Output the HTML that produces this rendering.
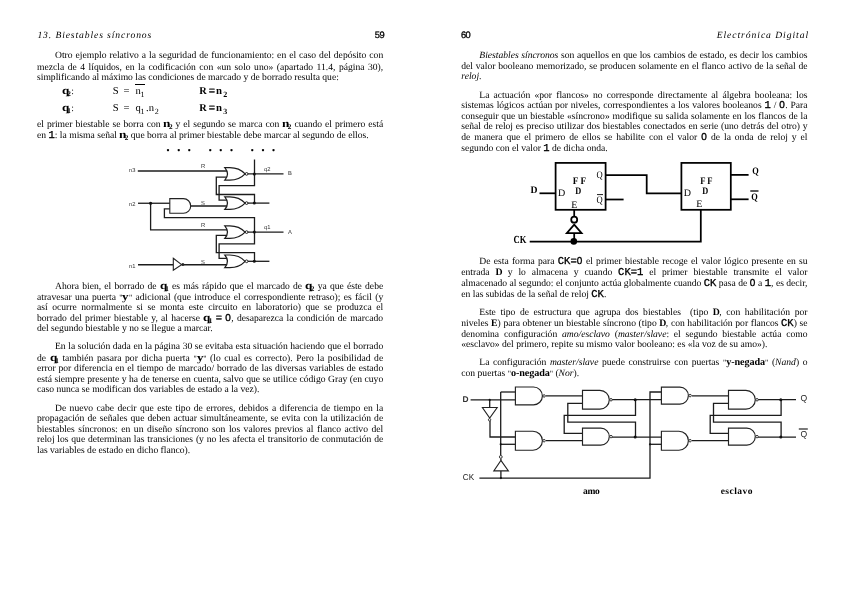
<!DOCTYPE html>
<html><head><meta charset="utf-8"><title>Electrónica Digital</title>
<style>
html,body{margin:0;padding:0;background:#fff}
body{width:848px;height:599px;position:relative;overflow:hidden;font-family:"Liberation Serif",serif;font-size:9.6px;color:#000;text-rendering:geometricPrecision}
#pg{position:absolute;left:0;top:0;width:848px;height:599px;will-change:transform;background:#fff;filter:blur(0.3px)}
.l{position:absolute;white-space:nowrap;line-height:10px;height:10px}
.l.j{text-align:justify;text-align-last:justify;white-space:normal}
.m{font-family:"Liberation Mono",monospace;font-weight:normal;-webkit-text-stroke:0.32px #000}
.ms{font-family:"Liberation Serif",serif;font-weight:bold;font-size:11px}
.wq{display:inline-block;transform:scaleX(1.2);transform-origin:0 50%;margin-right:1.1px}
.bs{font-size:7.2px;position:relative;top:2.1px;margin-left:-1.7px;letter-spacing:0}
.mw{font-size:9.8px;display:inline-block;width:6.5px;text-align:center;letter-spacing:-0.3px}
.qt{font-size:8px;position:relative;top:-0.5px}
.z{font-family:"Liberation Sans",sans-serif;font-weight:normal;-webkit-text-stroke:0.35px #000;font-size:0.95em;display:inline-block;width:0.6em;text-align:center}
.sb{font-size:8px;position:relative;top:2.8px;margin-left:-0.4px}
.sb2{font-size:8px;position:relative;top:3.0px;margin-left:1.4px;font-family:"Liberation Serif",serif}
.ov{display:inline-block;position:relative}
.ov:before{content:"";position:absolute;left:-0.6px;right:-0.2px;top:-2.6px;border-top:1px solid #000}
.pn{font-family:"Liberation Sans",sans-serif;font-size:9.3px;letter-spacing:-0.55px;-webkit-text-stroke:0.3px #000}
</style></head>
<body>
<div id="pg">
<svg width="848" height="599" viewBox="0 0 848 599" style="position:absolute;left:0;top:0">
<style>.w{fill:none;stroke:#1c1c1c;stroke-width:1.3;stroke-linejoin:miter}</style>
<path class="w" d="M137.8,171 H227"/>
<path class="w" d="M254.5,159.5 V174"/>
<path class="w" d="M138,203.25 H170"/>
<path class="w" d="M150.6,203.25 V229.8 H227"/>
<circle cx="150.6" cy="203.25" r="1.6" fill="#111"/>
<path class="w" d="M190,206 H227"/>
<path class="w" d="M170,208.9 H164.4 V217.6 H254.5 V232"/>
<path d="M169.8,198.6 H183.4 A7.3,7.3 0 0 1 183.4,213.2 H169.8 Z" fill="#fff" stroke="#222" stroke-width="1.1"/>
<path class="w" d="M138,264.75 H173"/>
<path class="w" d="M184,264.75 H227"/>
<path d="M173.3,258.3 L181.6,264.6 L173.3,270.2 Z" fill="#fff" stroke="#222" stroke-width="1.1"/>
<circle cx="182.9" cy="264.6" r="1.5" fill="#222"/>
<path d="M248,173.9 H283.5" class="w"/>
<path d="M254.5,173.9 V185.6 H219.1 V200.1 H227" class="w"/>
<path d="M248,203.1 H269.4" class="w"/>
<path d="M254.5,203.1 V194.5 H216.3 V177.1 H227" class="w"/>
<circle cx="254.3" cy="173.9" r="1.5" fill="#111"/>
<circle cx="254.3" cy="203.1" r="1.5" fill="#111"/>
<path d="M224.80,167.60 Q230.20,173.90 224.80,180.20 L229.80,180.20 C236.80,180.20 241.30,178.00 245.10,173.90 C241.30,169.80 236.80,167.60 229.80,167.60 Z" fill="#fff" stroke="#1c1c1c" stroke-width="1.2"/><circle cx="246.60" cy="173.90" r="1.35" fill="#fff" stroke="#1c1c1c" stroke-width="1"/>
<path d="M224.80,196.80 Q230.20,203.10 224.80,209.40 L229.80,209.40 C236.80,209.40 241.30,207.20 245.10,203.10 C241.30,199.00 236.80,196.80 229.80,196.80 Z" fill="#fff" stroke="#1c1c1c" stroke-width="1.2"/><circle cx="246.60" cy="203.10" r="1.35" fill="#fff" stroke="#1c1c1c" stroke-width="1"/>
<path d="M248,232.10000000000002 H283.5" class="w"/>
<path d="M254.5,232.10000000000002 V243.8 H219.1 V258.3 H227" class="w"/>
<path d="M248,261.3 H269.4" class="w"/>
<path d="M254.5,261.3 V252.7 H216.3 V235.3 H227" class="w"/>
<circle cx="254.3" cy="232.10000000000002" r="1.5" fill="#111"/>
<circle cx="254.3" cy="261.3" r="1.5" fill="#111"/>
<path d="M224.80,225.80 Q230.20,232.10 224.80,238.40 L229.80,238.40 C236.80,238.40 241.30,236.20 245.10,232.10 C241.30,228.00 236.80,225.80 229.80,225.80 Z" fill="#fff" stroke="#1c1c1c" stroke-width="1.2"/><circle cx="246.60" cy="232.10" r="1.35" fill="#fff" stroke="#1c1c1c" stroke-width="1"/>
<path d="M224.80,255.00 Q230.20,261.30 224.80,267.60 L229.80,267.60 C236.80,267.60 241.30,265.40 245.10,261.30 C241.30,257.20 236.80,255.00 229.80,255.00 Z" fill="#fff" stroke="#1c1c1c" stroke-width="1.2"/><circle cx="246.60" cy="261.30" r="1.35" fill="#fff" stroke="#1c1c1c" stroke-width="1"/>
<g font-family="Liberation Sans, sans-serif" fill="#333">
<text x="129" y="172.2" font-size="5.8" >n3</text>
<text x="129" y="206" font-size="5.8" >n2</text>
<text x="129" y="267.6" font-size="5.8" >n1</text>
<text x="201" y="168.2" font-size="5.8" >R</text>
<text x="201" y="205.2" font-size="5.8" >S</text>
<text x="201" y="226.6" font-size="5.8" >R</text>
<text x="201" y="263.6" font-size="5.8" >S</text>
<text x="264" y="171" font-size="5.8" >q2</text>
<text x="264" y="229.2" font-size="5.8" >q1</text>
<text x="288" y="175.2" font-size="5.8" >B</text>
<text x="288" y="234.4" font-size="5.8" >A</text>
</g>
<g fill="none" stroke="#000" stroke-width="1.75" stroke-linejoin="miter">
<rect x="555.6" y="162.9" width="50" height="46.9"/>
<rect x="681.4" y="162.9" width="49.4" height="46.9"/>
<path d="M539.5,193.3 H555.6"/>
<path d="M605.6,175 H646.7 V193.3 H681.4"/>
<path d="M605.6,199.5 H623.6"/>
<path d="M730.8,174.9 H748.6"/>
<path d="M730.8,199.3 H748.6"/>
<path d="M529.7,241.5 H700.8 V209.8"/>
<path d="M574.2,209.8 V216.3"/>
<circle cx="574.2" cy="219.7" r="3.0"/>
<path d="M574.2,224.6 L581.6,233.1 H566.8 Z"/>
<path d="M574.2,233.2 V241.5"/>
</g>
<circle cx="573.8" cy="241.4" r="3.3" fill="#000"/>
<path d="M597,194.6 H603" stroke="#000" stroke-width="0.9"/>
<path d="M750.3,191 H758.5" stroke="#000" stroke-width="1.3"/>
<g font-family="Liberation Serif, serif" fill="#000" font-size="10">
<text x="530.6" y="193.3" font-weight="bold" textLength="7" lengthAdjust="spacingAndGlyphs">D</text>
<text x="513.6" y="242.6" font-weight="bold" font-size="10.8" textLength="12.8" lengthAdjust="spacingAndGlyphs">CK</text>
<text x="558" y="196.2">D</text>
<text x="683.8" y="196.2">D</text>
<text x="572.8" y="183.9" font-weight="bold" textLength="13.3" lengthAdjust="spacingAndGlyphs">F F</text>
<text x="700.2" y="183.9" font-weight="bold" textLength="12.3" lengthAdjust="spacingAndGlyphs">F F</text>
<text x="575.3" y="193.8" font-weight="bold" textLength="6" lengthAdjust="spacingAndGlyphs">D</text>
<text x="702.3" y="193.8" font-weight="bold" textLength="6" lengthAdjust="spacingAndGlyphs">D</text>
<text x="596.6" y="178" textLength="6.2" lengthAdjust="spacingAndGlyphs">Q</text>
<text x="596.6" y="202.9" textLength="6.2" lengthAdjust="spacingAndGlyphs">Q</text>
<text x="571.2" y="208.1">E</text>
<text x="696.2" y="207.4">E</text>
<text x="752.2" y="174.4" font-weight="bold" textLength="6.5" lengthAdjust="spacingAndGlyphs">Q</text>
<text x="751.2" y="199.6" font-weight="bold" textLength="6.5" lengthAdjust="spacingAndGlyphs">Q</text>
</g>
<path d="M470.6,399.9 H516" class="w"/>
<path d="M489.7,399.9 V407.4" class="w"/>
<path d="M490,421 V437 H516" class="w"/>
<path d="M500.7,392 H516" class="w"/>
<path d="M500.7,392 V455.4" class="w"/>
<path d="M500.7,444.3 H516" class="w"/>
<path d="M500.9,458.4 V460.5" class="w"/>
<path d="M500.9,470.9 V478.1" class="w"/>
<path d="M479.4,478.1 H650 V392 H662" class="w"/>
<path d="M650,444.3 H662" class="w"/>
<path d="M482.4,407.5 H497.2 L489.7,418 Z" fill="#fff" stroke="#222" stroke-width="1.1"/>
<circle cx="489.6" cy="419.8" r="1.2" fill="#fff" stroke="#222" stroke-width="0.9"/>
<path d="M500.9,460.4 L508.4,470.9 H493.8 Z" fill="#fff" stroke="#222" stroke-width="1.1"/>
<circle cx="500.8" cy="456.9" r="1.4" fill="#fff" stroke="#222" stroke-width="0.9"/>
<circle cx="489.7" cy="399.9" r="1.1" fill="#111"/>
<circle cx="500.7" cy="444.3" r="1.1" fill="#111"/>
<circle cx="500.9" cy="478.1" r="1.1" fill="#111"/>
<circle cx="650" cy="444.3" r="1.1" fill="#111"/>
<path d="M546,395.9 H583.5" class="w"/>
<path d="M546,440.6 H583.5" class="w"/>
<path d="M612,399.7 H662" class="w"/>
<path d="M612,437.1 H662" class="w"/>
<path d="M635.5,399.7 V415.3 H564.2 V433.4 H583.5" class="w"/>
<path d="M635.5,437.1 V422.1 H567.8 V403.4 H583.5" class="w"/>
<circle cx="635.2" cy="399.7" r="1.5" fill="#111"/>
<circle cx="635.2" cy="437.1" r="1.5" fill="#111"/>
<path d="M515.40,387.00 H533.45 A8.95,8.95 0 0 1 533.45,404.90 H515.40 Z" fill="#fff" stroke="#222" stroke-width="1.15"/><circle cx="544.10" cy="395.95" r="1.25" fill="#fff" stroke="#222" stroke-width="0.9"/>
<path d="M515.40,431.20 H532.90 A9.50,9.50 0 0 1 532.90,450.20 H515.40 Z" fill="#fff" stroke="#222" stroke-width="1.15"/><circle cx="544.10" cy="440.70" r="1.25" fill="#fff" stroke="#222" stroke-width="0.9"/>
<path d="M582.50,390.35 H599.90 A9.40,9.40 0 0 1 599.90,409.15 H582.50 Z" fill="#fff" stroke="#222" stroke-width="1.15"/><circle cx="611.00" cy="399.75" r="1.25" fill="#fff" stroke="#222" stroke-width="0.9"/>
<path d="M582.50,428.10 H600.80 A8.50,8.50 0 0 1 600.80,445.10 H582.50 Z" fill="#fff" stroke="#222" stroke-width="1.15"/><circle cx="611.00" cy="436.60" r="1.25" fill="#fff" stroke="#222" stroke-width="0.9"/>
<path d="M692,395.9 H729.5" class="w"/>
<path d="M692,440.6 H729.5" class="w"/>
<path d="M758,399.7 H796" class="w"/>
<path d="M758,437.1 H796" class="w"/>
<path d="M781.1,399.7 V415.3 H710.2 V433.4 H729.5" class="w"/>
<path d="M781.1,437.1 V422.1 H713.5 V403.4 H729.5" class="w"/>
<circle cx="780.8000000000001" cy="399.7" r="1.5" fill="#111"/>
<circle cx="780.8000000000001" cy="437.1" r="1.5" fill="#111"/>
<path d="M661.40,387.10 H679.90 A8.50,8.50 0 0 1 679.90,404.10 H661.40 Z" fill="#fff" stroke="#222" stroke-width="1.15"/><circle cx="690.10" cy="395.60" r="1.25" fill="#fff" stroke="#222" stroke-width="0.9"/>
<path d="M661.40,431.20 H678.90 A9.50,9.50 0 0 1 678.90,450.20 H661.40 Z" fill="#fff" stroke="#222" stroke-width="1.15"/><circle cx="690.10" cy="440.70" r="1.25" fill="#fff" stroke="#222" stroke-width="0.9"/>
<path d="M728.50,390.35 H745.90 A9.40,9.40 0 0 1 745.90,409.15 H728.50 Z" fill="#fff" stroke="#222" stroke-width="1.15"/><circle cx="757.00" cy="399.75" r="1.25" fill="#fff" stroke="#222" stroke-width="0.9"/>
<path d="M728.50,428.10 H746.80 A8.50,8.50 0 0 1 746.80,445.10 H728.50 Z" fill="#fff" stroke="#222" stroke-width="1.15"/><circle cx="757.00" cy="436.60" r="1.25" fill="#fff" stroke="#222" stroke-width="0.9"/>
<g font-family="Liberation Sans, sans-serif" fill="#222" font-size="8.6">
<text x="462.6" y="401.8" font-weight="bold" font-size="8.4" fill="#333">D</text>
<text x="462.8" y="480.1" textLength="11.3" lengthAdjust="spacingAndGlyphs">CK</text>
<text x="800.4" y="400.6">Q</text>
<text x="800.4" y="436.6">Q</text>
</g>
<path d="M798.8,429 H807.8" stroke="#222" stroke-width="1.2"/>
</svg>
<div class="l" style="left:37.4px;top:31.00px"><i style="letter-spacing:0.9px">13. Biestables síncronos</i></div>
<div class="l" style="left:374.8px;top:30.00px"><span class="pn">59</span></div>
<div class="l j" style="left:55.0px;top:51.00px;width:328.2px">Otro ejemplo relativo a la seguridad de funcionamiento: en el caso del depósito con</div>
<div class="l j" style="left:37.0px;top:63.00px;width:346.2px">mezcla de 4 líquidos, en la codificación con «un solo uno» (apartado 11.4, página 30),</div>
<div class="l" style="left:37.0px;top:73.00px">simplificando al máximo las condiciones de marcado y de borrado resulta que:</div>
<div class="l" style="left:61.8px;top:86.00px"><b class="ms"><span class="wq">q</span><span class="bs">2</span></b><span style="margin-left:0.3px">:</span></div>
<div class="l" style="left:112.8px;top:87.00px"><span style="font-size:10.6px">S<span style="display:inline-block;width:4.9px"></span>=<span style="display:inline-block;width:6.0px"></span><span class="ov">n<span class="sb">1</span></span></span></div>
<div class="l" style="left:199.2px;top:86.00px"><b class="ms" style="font-size:10.4px;letter-spacing:0px">R</b><span style="display:inline-block;width:2.0px"></span><b class="m" style="font-size:10.5px;letter-spacing:0px">=</b><span style="display:inline-block;width:0.9px"></span><b class="ms" style="font-size:10.8px;letter-spacing:0px">n</b><b class="sb2">2</b></div>
<div class="l" style="left:61.8px;top:103.00px"><b class="ms"><span class="wq">q</span><span class="bs">1</span></b><span style="margin-left:0.3px">:</span></div>
<div class="l" style="left:112.8px;top:104.00px"><span style="font-size:10.6px">S<span style="display:inline-block;width:4.9px"></span>=<span style="display:inline-block;width:6px"></span>q<span class="sb">1</span><span style="margin-left:1.5px">.</span>n<span class="sb" style="margin-left:0.8px">2</span></span></div>
<div class="l" style="left:199.2px;top:103.00px"><b class="ms" style="font-size:10.4px;letter-spacing:0px">R</b><span style="display:inline-block;width:2.0px"></span><b class="m" style="font-size:10.5px;letter-spacing:0px">=</b><span style="display:inline-block;width:0.9px"></span><b class="ms" style="font-size:10.8px;letter-spacing:0px">n</b><b class="sb2">3</b></div>
<div class="l j" style="left:37.0px;top:119.00px;width:346.2px">el primer biestable se borra con <b class="ms"><span class="wq">n</span><span class="bs">2</span></b> y el segundo se marca con <b class="ms"><span class="wq">n</span><span class="bs">2</span></b> cuando el primero está</div>
<div class="l" style="left:37.0px;top:130.00px">en <b class="m" style="font-size:10.5px;letter-spacing:0px">1</b>: la misma señal <b class="ms"><span class="wq">n</span><span class="bs">2</span></b> que borra al primer biestable debe marcar al segundo de ellos.</div>
<div class="l" style="left:166.3px;top:143.00px"><b style="font-size:14px;letter-spacing:7.1px">...</b></div>
<div class="l" style="left:208.5px;top:143.00px"><b style="font-size:14px;letter-spacing:7.1px">...</b></div>
<div class="l" style="left:250.6px;top:143.00px"><b style="font-size:14px;letter-spacing:7.1px">...</b></div>
<div class="l j" style="left:55.0px;top:281.00px;width:328.2px">Ahora bien, el borrado de <b class="ms"><span class="wq">q</span><span class="bs">1</span></b> es más rápido que el marcado de <b class="ms"><span class="wq">q</span><span class="bs">2</span></b> ya que éste debe</div>
<div class="l j" style="left:37.0px;top:292.00px;width:346.2px">atravesar una puerta <span class="qt">"</span><b class="ms" style="font-size:10.8px;letter-spacing:0px"><span class="wq">y</span></b><span class="qt">"</span> adicional (que introduce el correspondiente retraso); es fácil (y</div>
<div class="l j" style="left:37.0px;top:303.00px;width:346.2px">así ocurre normalmente si se monta este circuito en laboratorio) que se produzca el</div>
<div class="l j" style="left:37.0px;top:313.00px;width:346.2px">borrado del primer biestable y, al hacerse <b class="ms"><span class="wq">q</span><span class="bs">1</span></b> <b class="m" style="font-size:10.5px;letter-spacing:0px">=</b> <b class="m" style="font-size:10.5px;letter-spacing:0px"><span class="z">0</span></b>, desaparezca la condición de marcado</div>
<div class="l" style="left:37.0px;top:324.00px">del segundo biestable y no se llegue a marcar.</div>
<div class="l j" style="left:55.0px;top:342.00px;width:328.2px">En la solución dada en la página 30 se evitaba esta situación haciendo que el borrado</div>
<div class="l j" style="left:37.0px;top:353.00px;width:346.2px">de <b class="ms"><span class="wq">q</span><span class="bs">1</span></b> también pasara por dicha puerta <span class="qt">"</span><b class="ms" style="font-size:10.8px;letter-spacing:0px"><span class="wq">y</span></b><span class="qt">"</span> (lo cual es correcto). Pero la posibilidad de</div>
<div class="l j" style="left:37.0px;top:364.00px;width:346.2px">error por diferencia en el tiempo de marcado/ borrado de las diversas variables de estado</div>
<div class="l j" style="left:37.0px;top:375.00px;width:346.2px">está siempre presente y ha de tenerse en cuenta, salvo que se utilice código Gray (en cuyo</div>
<div class="l" style="left:37.0px;top:385.00px">caso nunca se modifican dos variables de estado a la vez).</div>
<div class="l j" style="left:55.0px;top:404.00px;width:328.2px">De nuevo cabe decir que este tipo de errores, debidos a diferencia de tiempo en la</div>
<div class="l j" style="left:37.0px;top:414.00px;width:346.2px">propagación de señales que deben actuar simultáneamente, se evita con la utilización de</div>
<div class="l j" style="left:37.0px;top:425.00px;width:346.2px">biestables síncronos: en un diseño síncrono son los valores previos al flanco activo del</div>
<div class="l j" style="left:37.0px;top:435.00px;width:346.2px">reloj los que determinan las transiciones (y no les afecta el transitorio de conmutación de</div>
<div class="l" style="left:37.0px;top:446.00px">las variables de estado en dicho flanco).</div>
<div class="l" style="left:461.0px;top:30.00px"><span class="pn">60</span></div>
<div class="l" style="left:461.3px;top:31.00px;width:346.8px;text-align:right"><i style="letter-spacing:0.95px;margin-right:-0.95px">Electrónica Digital</i></div>
<div class="l j" style="left:479.3px;top:51.00px;width:328.2px"><i>Biestables síncronos</i> son aquellos en que los cambios de estado, es decir los cambios</div>
<div class="l j" style="left:461.3px;top:62.00px;width:346.2px">del valor booleano memorizado, se producen solamente en el flanco activo de la señal de</div>
<div class="l" style="left:461.3px;top:72.00px"><i>reloj</i>.</div>
<div class="l j" style="left:479.3px;top:91.00px;width:328.2px">La actuación «por flancos» no corresponde directamente al álgebra booleana: los</div>
<div class="l j" style="left:461.3px;top:101.00px;width:346.2px">sistemas lógicos actúan por niveles, correspondientes a los valores booleanos <b class="m" style="font-size:10.5px;letter-spacing:0px">1</b> / <b class="m" style="font-size:10.5px;letter-spacing:0px"><span class="z">0</span></b>. Para</div>
<div class="l j" style="left:461.3px;top:112.00px;width:346.2px">conseguir que un biestable «síncrono» modifique su salida solamente en los flancos de la</div>
<div class="l j" style="left:461.3px;top:122.00px;width:346.2px">señal de reloj es preciso utilizar dos biestables conectados en serie (uno detrás del otro) y</div>
<div class="l j" style="left:461.3px;top:133.00px;width:346.2px">de manera que el primero de ellos se habilite con el valor <b class="m" style="font-size:10.5px;letter-spacing:0px"><span class="z">0</span></b> de la onda de reloj y el</div>
<div class="l" style="left:461.3px;top:144.00px">segundo con el valor <b class="m" style="font-size:10.5px;letter-spacing:0px">1</b> de dicha onda.</div>
<div class="l j" style="left:479.3px;top:257.00px;width:328.2px">De esta forma para <b class="m" style="font-size:10.5px;letter-spacing:0px">CK=<span class="z">0</span></b> el primer biestable recoge el valor lógico presente en su</div>
<div class="l j" style="left:461.3px;top:268.00px;width:346.2px">entrada <b class="ms mw">D</b> y lo almacena y cuando <b class="m" style="font-size:10.5px;letter-spacing:0px">CK=1</b> el primer biestable transmite el valor</div>
<div class="l j" style="left:461.3px;top:279.00px;width:346.2px">almacenado al segundo: el conjunto actúa globalmente cuando <b class="m" style="font-size:10.5px;letter-spacing:0px">CK</b> pasa de <b class="m" style="font-size:10.5px;letter-spacing:0px"><span class="z">0</span></b> a <b class="m" style="font-size:10.5px;letter-spacing:0px">1</b>, es decir,</div>
<div class="l" style="left:461.3px;top:290.00px">en las subidas de la señal de reloj <b class="m" style="font-size:10.5px;letter-spacing:0px">CK</b>.</div>
<div class="l j" style="left:479.3px;top:308.00px;width:328.2px">Este tipo de estructura que agrupa dos biestables &nbsp;(tipo <b class="ms mw">D</b>, con habilitación por</div>
<div class="l j" style="left:461.3px;top:319.00px;width:346.2px">niveles <b class="ms mw">E</b>) para obtener un biestable síncrono (tipo <b class="ms mw">D</b>, con habilitación por flancos <b class="m" style="font-size:10.5px;letter-spacing:0px">CK</b>) se</div>
<div class="l j" style="left:461.3px;top:330.00px;width:346.2px">denomina configuración <i>amo/esclavo</i> (<i>master/slave</i>: el segundo biestable actúa como</div>
<div class="l" style="left:461.3px;top:340.00px">«esclavo» del primero, repite su mismo valor booleano: es «la voz de su amo»).</div>
<div class="l j" style="left:479.3px;top:358.00px;width:328.2px">La configuración <i>master/slave</i> puede construirse con puertas <span class="qt">"</span><b class="ms" style="font-size:10.2px;letter-spacing:-0.1px">y-negada</b><span class="qt">"</span> (<i>Nand</i>) o</div>
<div class="l" style="left:461.3px;top:369.00px">con puertas <span class="qt">"</span><b class="ms" style="font-size:10.2px;letter-spacing:-0.1px">o-negada</b><span class="qt">"</span> (<i>Nor</i>).</div>
<div class="l" style="left:583px;top:487.00px"><b style="font-size:9.5px;letter-spacing:-0.3px">amo</b></div>
<div class="l" style="left:720.7px;top:487.00px"><b style="font-size:9.5px;letter-spacing:0.45px">esclavo</b></div>
</div>
</body></html>
